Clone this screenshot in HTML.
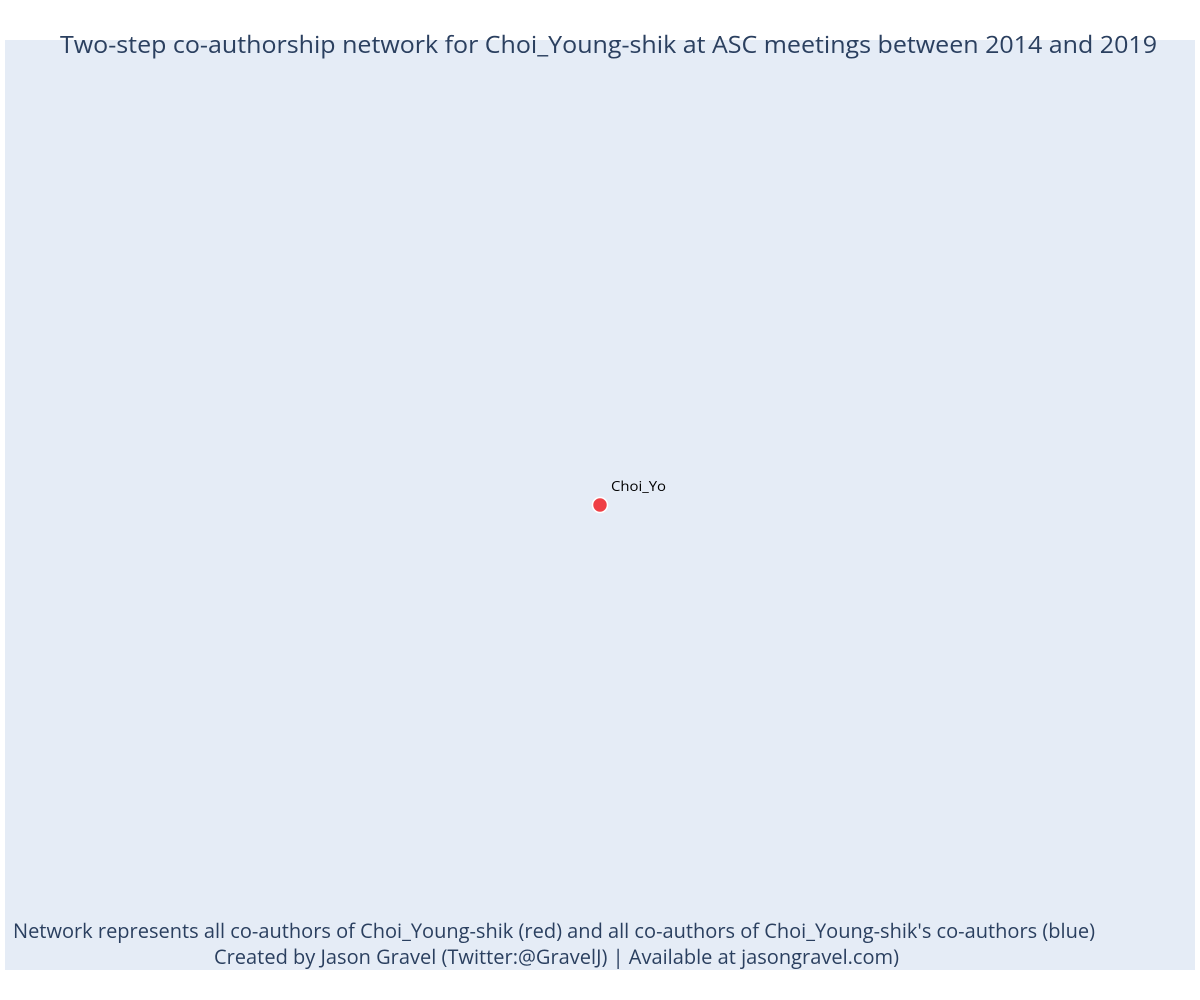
<!DOCTYPE html>
<html><head><meta charset="utf-8"><style>
html,body{margin:0;padding:0;background:#fff;}
svg{display:block;font-family:"Open Sans","Liberation Sans",sans-serif;}
</style></head><body>
<svg id="chart" width="1200" height="1000" xmlns="http://www.w3.org/2000/svg">
<rect x="5" y="40" width="1190" height="930" fill="#e5ecf6"/>
<text x="60" y="53" font-size="24" fill="#2a3f5f" textLength="1097" lengthAdjust="spacingAndGlyphs">Two-step co-authorship network for Choi_Young-shik at ASC meetings between 2014 and 2019</text>
<g id="nodes"></g>
<text x="13" y="938" font-size="20" fill="#2a3f5f" textLength="1082" lengthAdjust="spacingAndGlyphs">Network represents all co-authors of Choi_Young-shik (red) and all co-authors of Choi_Young-shik's co-authors (blue)</text>
<text x="214" y="964" font-size="20" fill="#2a3f5f" textLength="685" lengthAdjust="spacingAndGlyphs">Created by Jason Gravel (Twitter:@GravelJ) | Available at jasongravel.com)</text>
</svg>
<script>
const nodeLabels = ["Choi_Yo"];
const nodeX = [0];
const nodeY = [0];
const nodeColors = ["#ef3f45"];
// axis functions: domain [-1,1] mapped to plot area
function xScale(v){ return 5 + (v + 1) / 2 * 1190; }
function yScale(v){ return 505 - v * 465; }
const ns = "http://www.w3.org/2000/svg";
const g = document.getElementById("nodes");
nodeLabels.forEach((lab, i) => {
  const c = document.createElementNS(ns, "circle");
  c.setAttribute("cx", xScale(nodeX[i]));
  c.setAttribute("cy", yScale(nodeY[i]));
  c.setAttribute("r", 7.5);
  c.setAttribute("fill", nodeColors[i]);
  c.setAttribute("stroke", "#fff");
  c.setAttribute("stroke-width", 1.5);
  
  
  g.appendChild(c);
  const t = document.createElementNS(ns, "text");
  t.setAttribute("x", xScale(nodeX[i]) + 11);
  t.setAttribute("y", yScale(nodeY[i]) - 14);
  t.setAttribute("font-size", 14);
  t.setAttribute("fill", "#000");
  t.setAttribute("textLength", 55);
  t.setAttribute("lengthAdjust", "spacingAndGlyphs");
  t.textContent = lab;
  
  
  g.appendChild(t);
});
</script>
</body></html>
